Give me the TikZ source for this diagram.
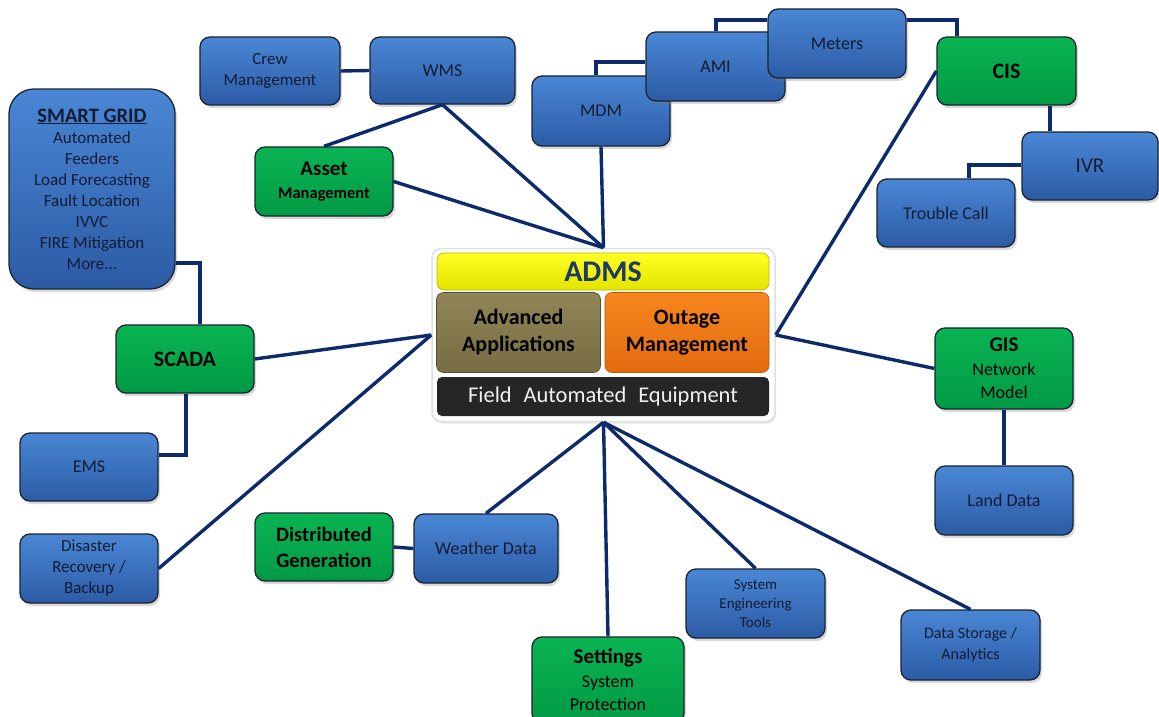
\documentclass[tikz,border=0pt]{standalone}
\usepackage{fontspec}
\setmainfont{Carlito}
\usetikzlibrary{shadows}
\definecolor{bluetop}{HTML}{4A87D5}
\definecolor{bluebot}{HTML}{2C5BA5}
\definecolor{greentop}{HTML}{0AB452}
\definecolor{greenbot}{HTML}{019A45}
\definecolor{navy}{HTML}{0D2B6B}
\definecolor{txtblue}{HTML}{121C34}
\definecolor{edgecol}{HTML}{1A2333}
\definecolor{yeltop}{HTML}{FFFF22}
\definecolor{yelbot}{HTML}{E4E400}
\definecolor{olivetop}{HTML}{908556}
\definecolor{olivebot}{HTML}{786D43}
\definecolor{orangetop}{HTML}{F8861F}
\definecolor{orangebot}{HTML}{E26B0E}
\definecolor{fieldcol}{HTML}{262626}
\definecolor{admstext}{HTML}{1F3864}
\tikzset{
  basebox/.style={rounded corners=10pt, draw=edgecol, line width=1.3pt,
    minimum width=138pt, minimum height=68pt, inner sep=2pt, align=center,
    drop shadow={shadow xshift=2pt, shadow yshift=-3pt, opacity=0.3}},
  bluebox/.style={basebox, top color=bluetop, bottom color=bluebot, text=txtblue,
    font=\fontsize{18}{21}\selectfont},
  greenbox/.style={basebox, top color=greentop, bottom color=greenbot, text=black,
    font=\fontsize{18}{23}\selectfont},
  innerbox/.style={rounded corners=7pt, inner sep=2pt, align=center},
  link/.style={draw=navy, line width=3.4pt},
}
\begin{document}
\begin{tikzpicture}[x=1pt, y=-1pt]
\useasboundingbox (0,0) rectangle (1159,717);

% central ADMS block
\node[fill=white, draw=black!12, line width=1.5pt, rounded corners=9pt,
  minimum width=343pt, minimum height=173pt,
  drop shadow={shadow xshift=1pt, shadow yshift=-2pt, opacity=0.2}] (adms) at (603.5,335) {};
\node[innerbox, top color=yeltop, bottom color=yelbot, draw=yelbot!80!black, line width=0.6pt,
  minimum width=332pt, minimum height=37pt, text=admstext,
  font=\bfseries\fontsize{30}{30}\selectfont] (admstitle) at (603,271.5) {ADMS};
\node[innerbox, top color=olivetop, bottom color=olivebot, draw=olivebot!70!black, line width=0.6pt,
  minimum width=164pt, minimum height=80pt, text=black,
  font=\bfseries\fontsize{22}{27}\selectfont] (adv) at (518.5,332.5) {Advanced\\Applications};
\node[innerbox, top color=orangetop, bottom color=orangebot, draw=orangebot!80!black, line width=0.6pt,
  minimum width=164pt, minimum height=80pt, text=black,
  font=\bfseries\fontsize{22}{27}\selectfont] (outage) at (687,332.5) {Outage\\Management};
\node[innerbox, rounded corners=5pt, fill=fieldcol, minimum width=332pt, minimum height=39pt,
  text=white!94!black, font=\fontsize{22.5}{22}\selectfont] (field) at (603,396.5)
  {Field\hspace{0.3em} Automated\hspace{0.3em} Equipment};

% boxes
\node[bluebox, minimum width=140pt, font=\fontsize{17}{21}\selectfont] (crew) at (270,71) {Crew\\Management};
\node[bluebox, minimum width=145pt, minimum height=67pt] (wms) at (442.5,70.5) {WMS};
\node[greenbox, minimum height=69pt] (asset) at (324,181.5)
  {\bfseries\fontsize{21}{23}\selectfont Asset\\\bfseries\fontsize{16.5}{20}\selectfont Management};
\node[bluebox, minimum height=70pt] (mdm) at (601,111) {MDM};
\node[bluebox, minimum width=139pt, minimum height=69pt] (ami) at (715.5,66.5) {AMI};
\node[bluebox, minimum height=69pt] (meters) at (837,43.5) {Meters};
\node[greenbox, minimum width=139pt] (cis) at (1006.5,71) {\bfseries\fontsize{22}{24}\selectfont CIS};
\node[bluebox, minimum width=136pt, font=\fontsize{21}{24}\selectfont] (ivr) at (1090,166) {IVR};
\node[bluebox] (trouble) at (946,213) {Trouble Call};
\node[bluebox, minimum width=166pt, minimum height=200pt, rounded corners=25pt,
  font=\fontsize{17}{21}\selectfont] (smart) at (92,189)
  {{\bfseries\fontsize{20.5}{24}\selectfont\underline{SMART GRID}}\\Automated\\Feeders\\Load Forecasting\\Fault Location\\IVVC\\FIRE Mitigation\\More...};
\node[greenbox] (scada) at (185,359) {\bfseries\fontsize{22}{24}\selectfont SCADA};
\node[bluebox] (ems) at (89,467) {EMS};
\node[bluebox, minimum height=69pt, font=\fontsize{17}{21}\selectfont] (disaster) at (89,568.5) {Disaster\\Recovery /\\Backup};
\node[greenbox, minimum height=81pt, font=\fontsize{18}{23.5}\selectfont] (gis) at (1004,368.5)
  {{\bfseries\fontsize{21}{23.5}\selectfont GIS}\\Network\\Model};
\node[bluebox, minimum height=69pt] (land) at (1004,500.5) {Land Data};
\node[greenbox, font=\bfseries\fontsize{20.5}{26}\selectfont] (distgen) at (324,547) {Distributed\\Generation};
\node[bluebox, minimum width=144pt, minimum height=69pt] (weather) at (486,548.5) {Weather Data};
\node[greenbox, minimum width=152pt, minimum height=86pt, font=\fontsize{18}{23.5}\selectfont] (settings) at (608,680)
  {{\bfseries\fontsize{21}{23.5}\selectfont Settings}\\System\\Protection};
\node[bluebox, minimum width=139pt, minimum height=69pt, font=\fontsize{15}{18.7}\selectfont] (syseng) at (755.5,603.5)
  {System\\Engineering\\Tools};
\node[bluebox, minimum width=139pt, minimum height=70pt, font=\fontsize{16}{21}\selectfont] (datastore) at (970.5,645)
  {Data Storage /\\Analytics};

% connectors
\draw[link] (crew.east) -- (wms.west);
\draw[link] (wms.south) -- (asset.north);
\draw[link] (wms.south) -- (adms.north);
\draw[link] (asset.east) -- (adms.north);
\draw[link] (mdm.south) -- (adms.north);
\draw[link] ([xshift=-5pt]mdm.north) |- ([yshift=4.5pt]ami.west);
\draw[link] ([xshift=0.5pt]ami.north) |- ([yshift=23.5pt]meters.west);
\draw[link] ([yshift=23.5pt]meters.east) -| ([xshift=-49.5pt]cis.north);
\draw[link] (cis.west) -- (adms.east);
\draw[link] ([xshift=43.5pt]cis.south) -- ([xshift=-40pt]ivr.north);
\draw[link] ([yshift=1pt]ivr.west) -| ([xshift=23pt]trouble.north);
\draw[link] ([yshift=-74pt]smart.east) -| ([xshift=15pt]scada.north);
\draw[link] (scada.east) -- (adms.west);
\draw[link] ([xshift=1pt]scada.south) |- ([yshift=12pt]ems.east);
\draw[link] (disaster.east) -- (adms.west);
\draw[link] (adms.east) -- (gis.west);
\draw[link] (gis.south) -- (land.north);
\draw[link] (distgen.east) -- (weather.west);
\draw[link] (adms.south) -- (weather.north);
\draw[link] (adms.south) -- (settings.north);
\draw[link] (adms.south) -- (syseng.north);
\draw[link] (adms.south) -- (datastore.north);
\end{tikzpicture}
\end{document}
